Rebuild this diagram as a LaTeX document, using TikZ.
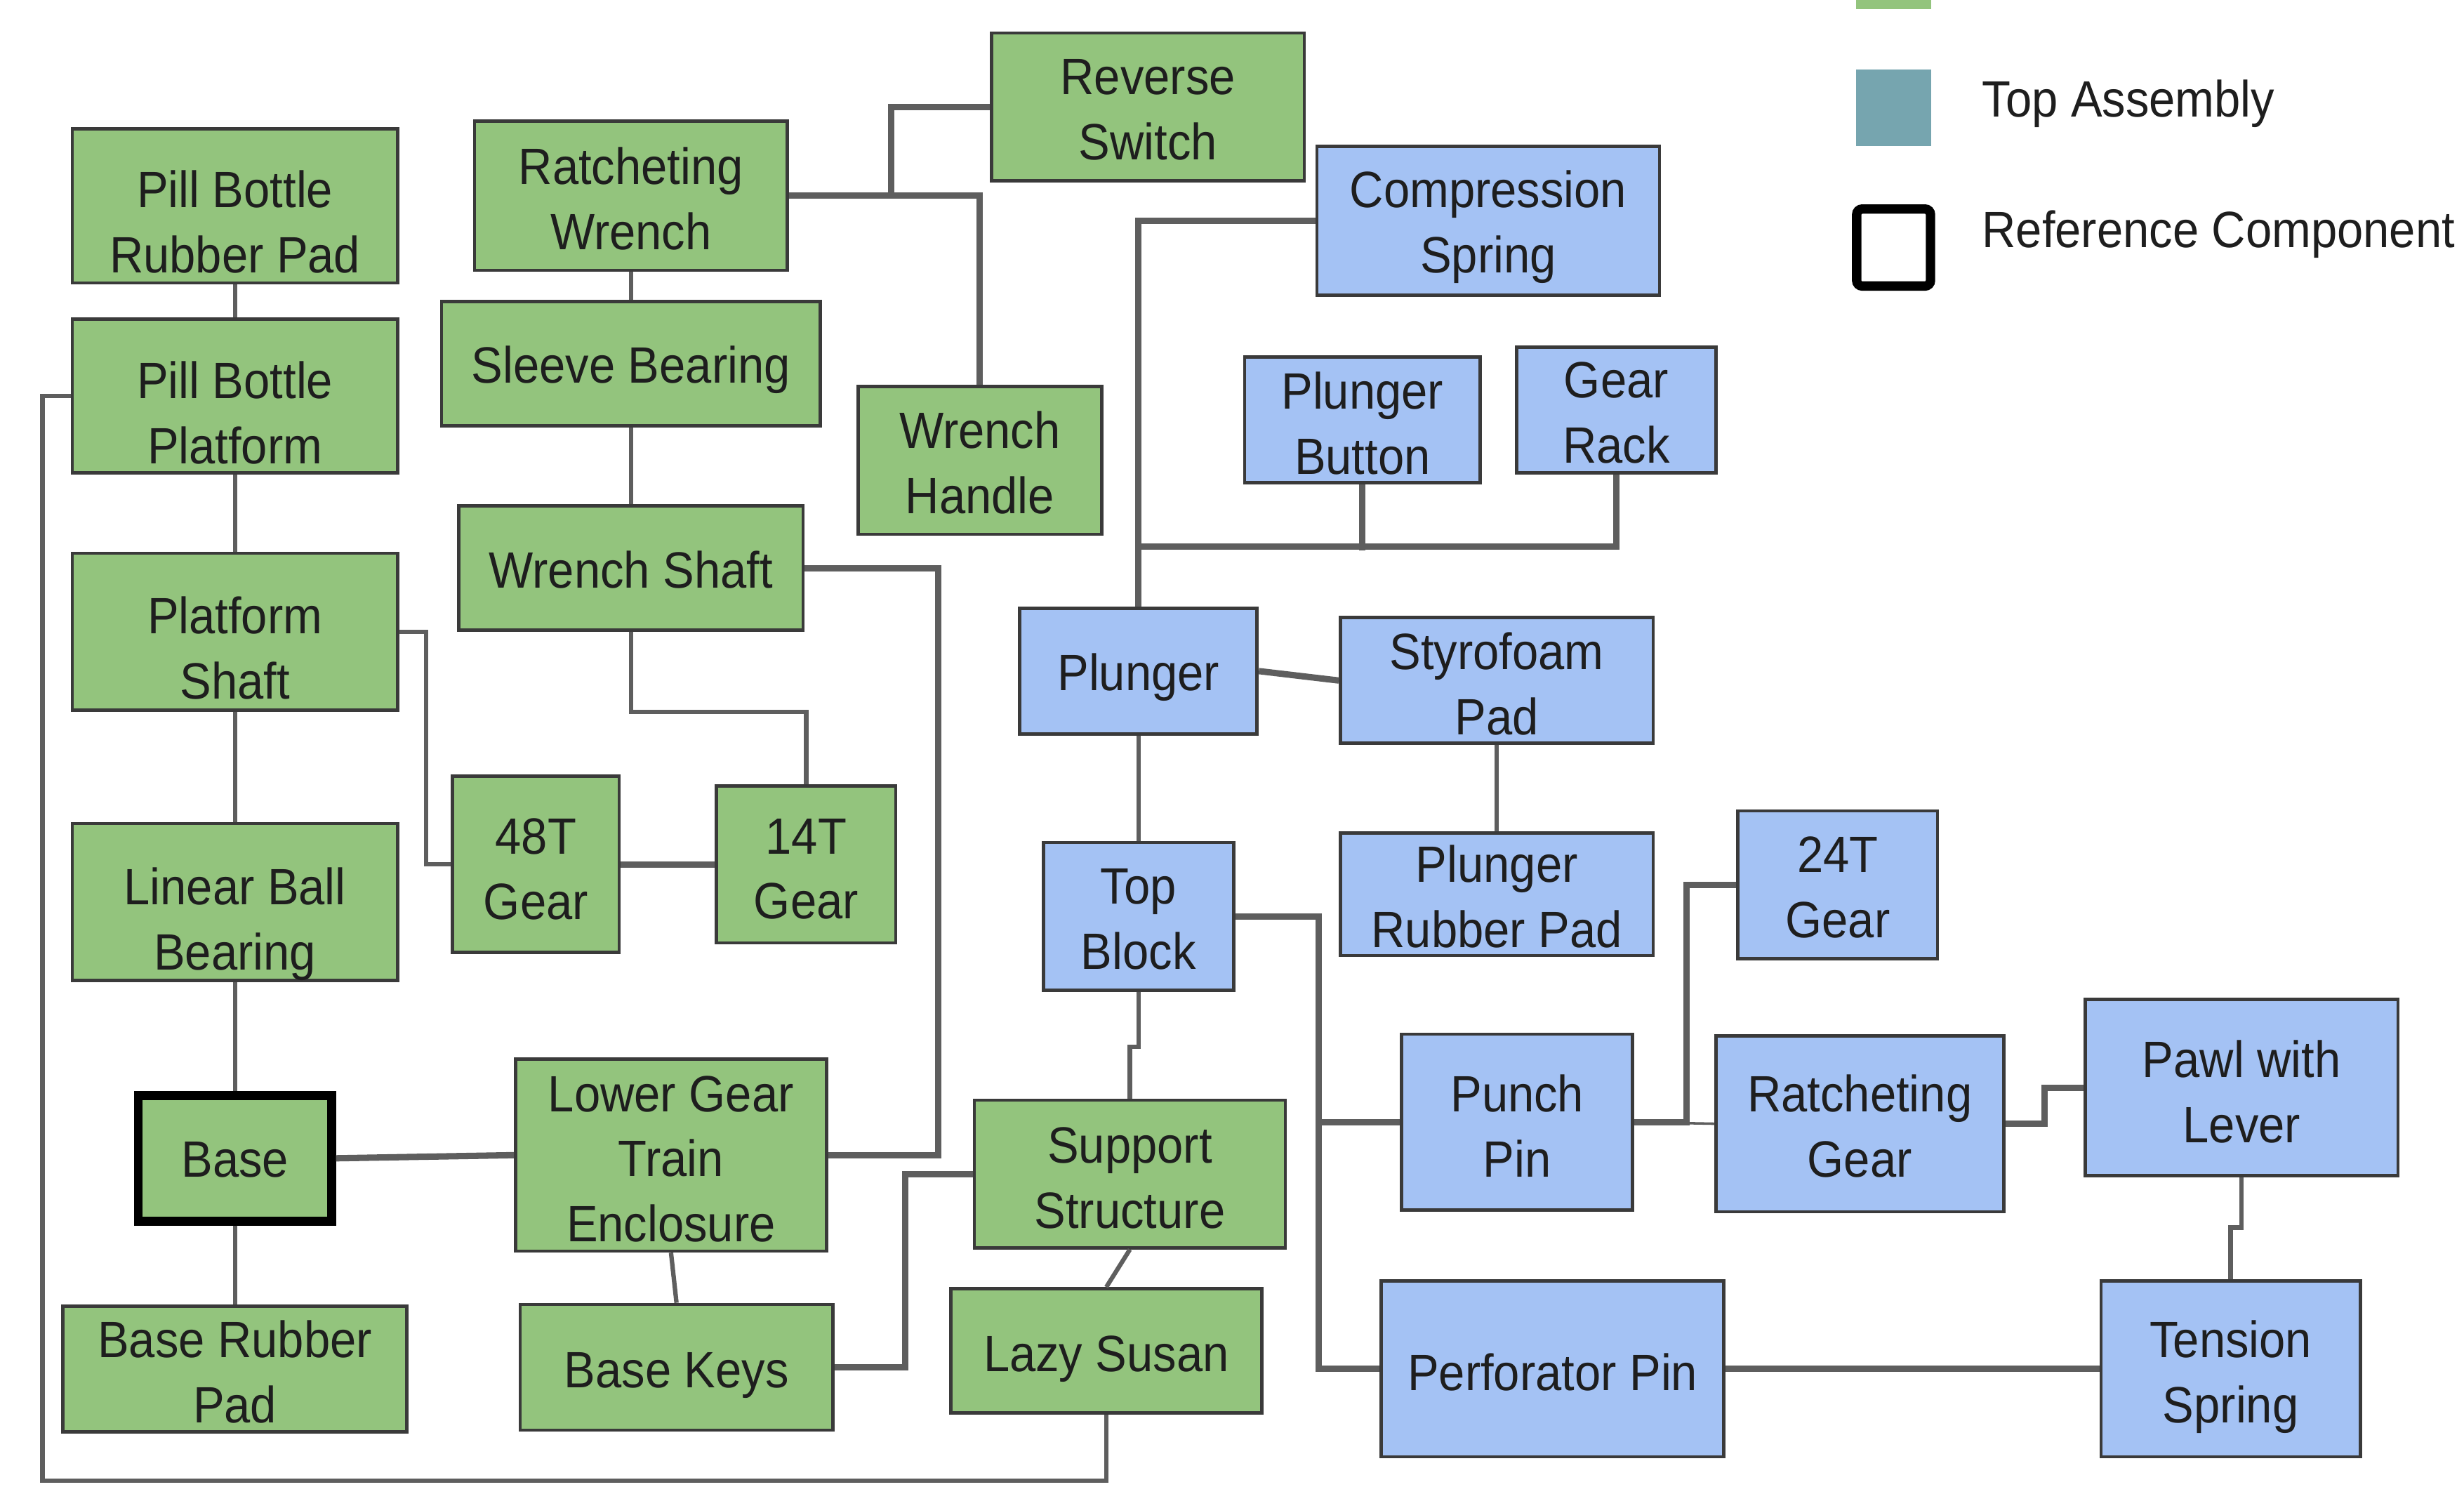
\documentclass[tikz,border=0pt]{standalone}
\usepackage{fontspec}
\setmainfont[FakeStretch=0.92]{Liberation Sans}
\definecolor{gfill}{HTML}{93C47D}
\definecolor{bfill}{HTML}{A4C2F4}
\definecolor{tealc}{HTML}{76A5AF}
\definecolor{edgec}{HTML}{3A3A3A}
\definecolor{linec}{HTML}{5E5E5E}
\definecolor{txtc}{HTML}{1E1E1E}
% \bx{name}{x1}{y1}{x2}{y2}{style}{text}{text shift down}
\newcommand\bx[8]{%
  \node[#6, minimum width={(#4-#2)*0.02cm}, minimum height={(#5-#3)*0.02cm}] (#1) at ({(#2+#4)/2},{(#3+#5)/2}) {};
  \node[boxtext] (#1-t) at ([yshift={-(#8)*0.02cm}]#1.center) {#7};}
\begin{document}
\begin{tikzpicture}[x=0.02cm,y=-0.02cm,
  box/.style={draw=edgec, line width=1.2pt, inner sep=0pt},
  boxtext/.style={inner sep=0pt, align=center, text=txtc, font=\fontsize{18.5}{23.6}\selectfont},
  gbox/.style={box, fill=gfill},
  bbox/.style={box, fill=bfill},
  refbox/.style={gbox, draw=black, line width=3.2pt},
  conn/.style={draw=linec, line width=1.6pt},
  thick conn/.style={draw=linec, line width=2.3pt},
  thin conn/.style={draw=linec, line width=0.9pt},
  legtext/.style={anchor=west, inner sep=0pt, text=txtc, font=\fontsize{18.5}{23}\selectfont}]
\useasboundingbox (0,0) rectangle (1568,946);
\fill[white] (0,0) rectangle (1568,946);

% green boxes
\bx{pbrp}{46}{82}{253}{180}{gbox}{Pill Bottle\\Rubber Pad}{10}
\bx{pbp}{46}{203}{253}{301}{gbox}{Pill Bottle\\Platform}{10.5}
\bx{ps}{46}{352}{253}{452}{gbox}{Platform\\Shaft}{10.5}
\bx{lbb}{46}{524}{253}{624}{gbox}{Linear Ball\\Bearing}{14}
\bx{base}{88}{697}{211}{777}{refbox}{Base}{1}
\bx{brp}{40}{831}{259}{911}{gbox}{Base Rubber\\Pad}{2}
\bx{rw}{302}{77}{501}{172}{gbox}{Ratcheting\\Wrench}{2}
\bx{sb}{281}{192}{522}{271}{gbox}{Sleeve Bearing}{4}
\bx{ws}{292}{322}{511}{401}{gbox}{Wrench Shaft}{1}
\bx{wh}{546}{246}{701}{340}{gbox}{Wrench\\Handle}{1.5}
\bx{rs}{631}{21}{830}{115}{gbox}{Reverse\\Switch}{2}
\bx{g48}{288}{494}{394}{606}{gbox}{48T\\Gear}{3}
\bx{g14}{456}{500}{570}{600}{gbox}{14T\\Gear}{3}
\bx{lgte}{328}{674}{526}{796}{gbox}{Lower Gear\\Train\\Enclosure}{2.5}
\bx{bk}{331}{830}{530}{910}{gbox}{Base Keys}{5}
\bx{ss}{620}{700}{818}{794}{gbox}{Support\\Structure}{2.5}
\bx{ls}{605}{820}{803}{899}{gbox}{Lazy Susan}{5}

% blue boxes
\bx{cs}{838}{93}{1056}{188}{bbox}{Compression\\Spring}{4}
\bx{pb}{792}{227}{942}{307}{bbox}{Plunger\\Button}{2.5}
\bx{gr}{965}{221}{1092}{301}{bbox}{Gear\\Rack}{1.5}
\bx{pl}{649}{387}{800}{467}{bbox}{Plunger}{4}
\bx{sp}{853}{393}{1052}{473}{bbox}{Styrofoam\\Pad}{2}
\bx{prp}{853}{530}{1052}{608}{bbox}{Plunger\\Rubber Pad}{1.5}
\bx{tb}{664}{536}{785}{630}{bbox}{Top\\Block}{2}
\bx{g24}{1106}{516}{1233}{610}{bbox}{24T\\Gear}{1.5}
\bx{pp}{892}{658}{1039}{770}{bbox}{Punch\\Pin}{2.5}
\bx{rg}{1092}{659}{1275}{771}{bbox}{Ratcheting\\Gear}{1.5}
\bx{pawl}{1327}{636}{1526}{748}{bbox}{Pawl with\\Lever}{2.5}
\bx{perf}{879}{815}{1097}{927}{bbox}{Perforator Pin}{2}
\bx{ts}{1337}{815}{1502}{927}{bbox}{Tension\\Spring}{5}

% connectors (left part)
\draw[conn] (pbrp.south) -- (pbp.north);
\draw[conn] (pbp.south) -- (ps.north);
\draw[conn] (ps.south) -- (lbb.north);
\draw[conn] (lbb.south) -- (base.north);
\draw[conn] (base.south) -- (brp.north);
\draw[thick conn] (base.east) -- (lgte.west);
\draw[conn] (ps.east) -- ++(17,0) |- (g48.west);
\draw[thick conn] (g48.east) -- (g14.west);
\draw[conn] (ws.south) -- ++(0,51) -| (g14.north);
\draw[thick conn] (ws.east) -- ++(85,0) |- (lgte.east);
\draw[conn] (rw.south) -- (sb.north);
\draw[conn] (sb.south) -- (ws.north);
\draw[thick conn] (rw.east) -- ++(65,0) |- (rs.west);
\draw[thick conn] (rw.east) -| (wh.north);
\draw[conn] (lgte.south) -- (bk.north);
\draw[thick conn] (bk.east) -- ++(45,0) |- (ss.west);
\draw[conn] (ss.south) -- (ls.north);
\draw[conn] (ls.south) |- (27,942) |- (pbp.west);
\draw[conn] (tb.south) -- ++(0,35) -| (ss.north);

% connectors (right part)
\draw[conn] (pl.south) -- (tb.north);
\draw[thick conn] (pl.east) -- (sp.west);
\draw[conn] (sp.south) -- (prp.north);
\draw[thick conn] (pl.north) |- (cs.west);
\draw[thick conn] (pl.north) ++(0,-38) -| (gr.south);
\draw[thick conn] (pb.south) -- ++(0,42);
\draw[thick conn] (tb.east) -- ++(53,0) |- (perf.west);
\draw[thick conn] (tb.east) ++(53,0) |- (pp.west);
\draw[thick conn] (pp.east) -- ++(33,0) |- (g24.west);
\draw[thin conn] (pp.east) -- (rg.west);
\draw[thick conn] (rg.east) -- ++(25,0) |- (pawl.west);
\draw[conn] (pawl.south) -- ++(0,32) -| (ts.north);
\draw[thick conn] (perf.east) -- (ts.west);

% legend
\fill[gfill] (1181,0) rectangle (1229,6);
\node[fill=tealc, minimum width=0.96cm, minimum height=0.98cm, inner sep=0pt] (legtop) at (1205,68.5) {};
\node[draw=black, fill=white, line width=3.4pt, rounded corners=2pt, minimum width=0.94cm, minimum height=0.98cm, inner sep=0pt] (legref) at (1205,157.5) {};
\node[legtext] (ltop) at (1261,66) {Top Assembly};
\node[legtext] (lref) at (1261,149) {Reference Component};
\end{tikzpicture}
\end{document}
